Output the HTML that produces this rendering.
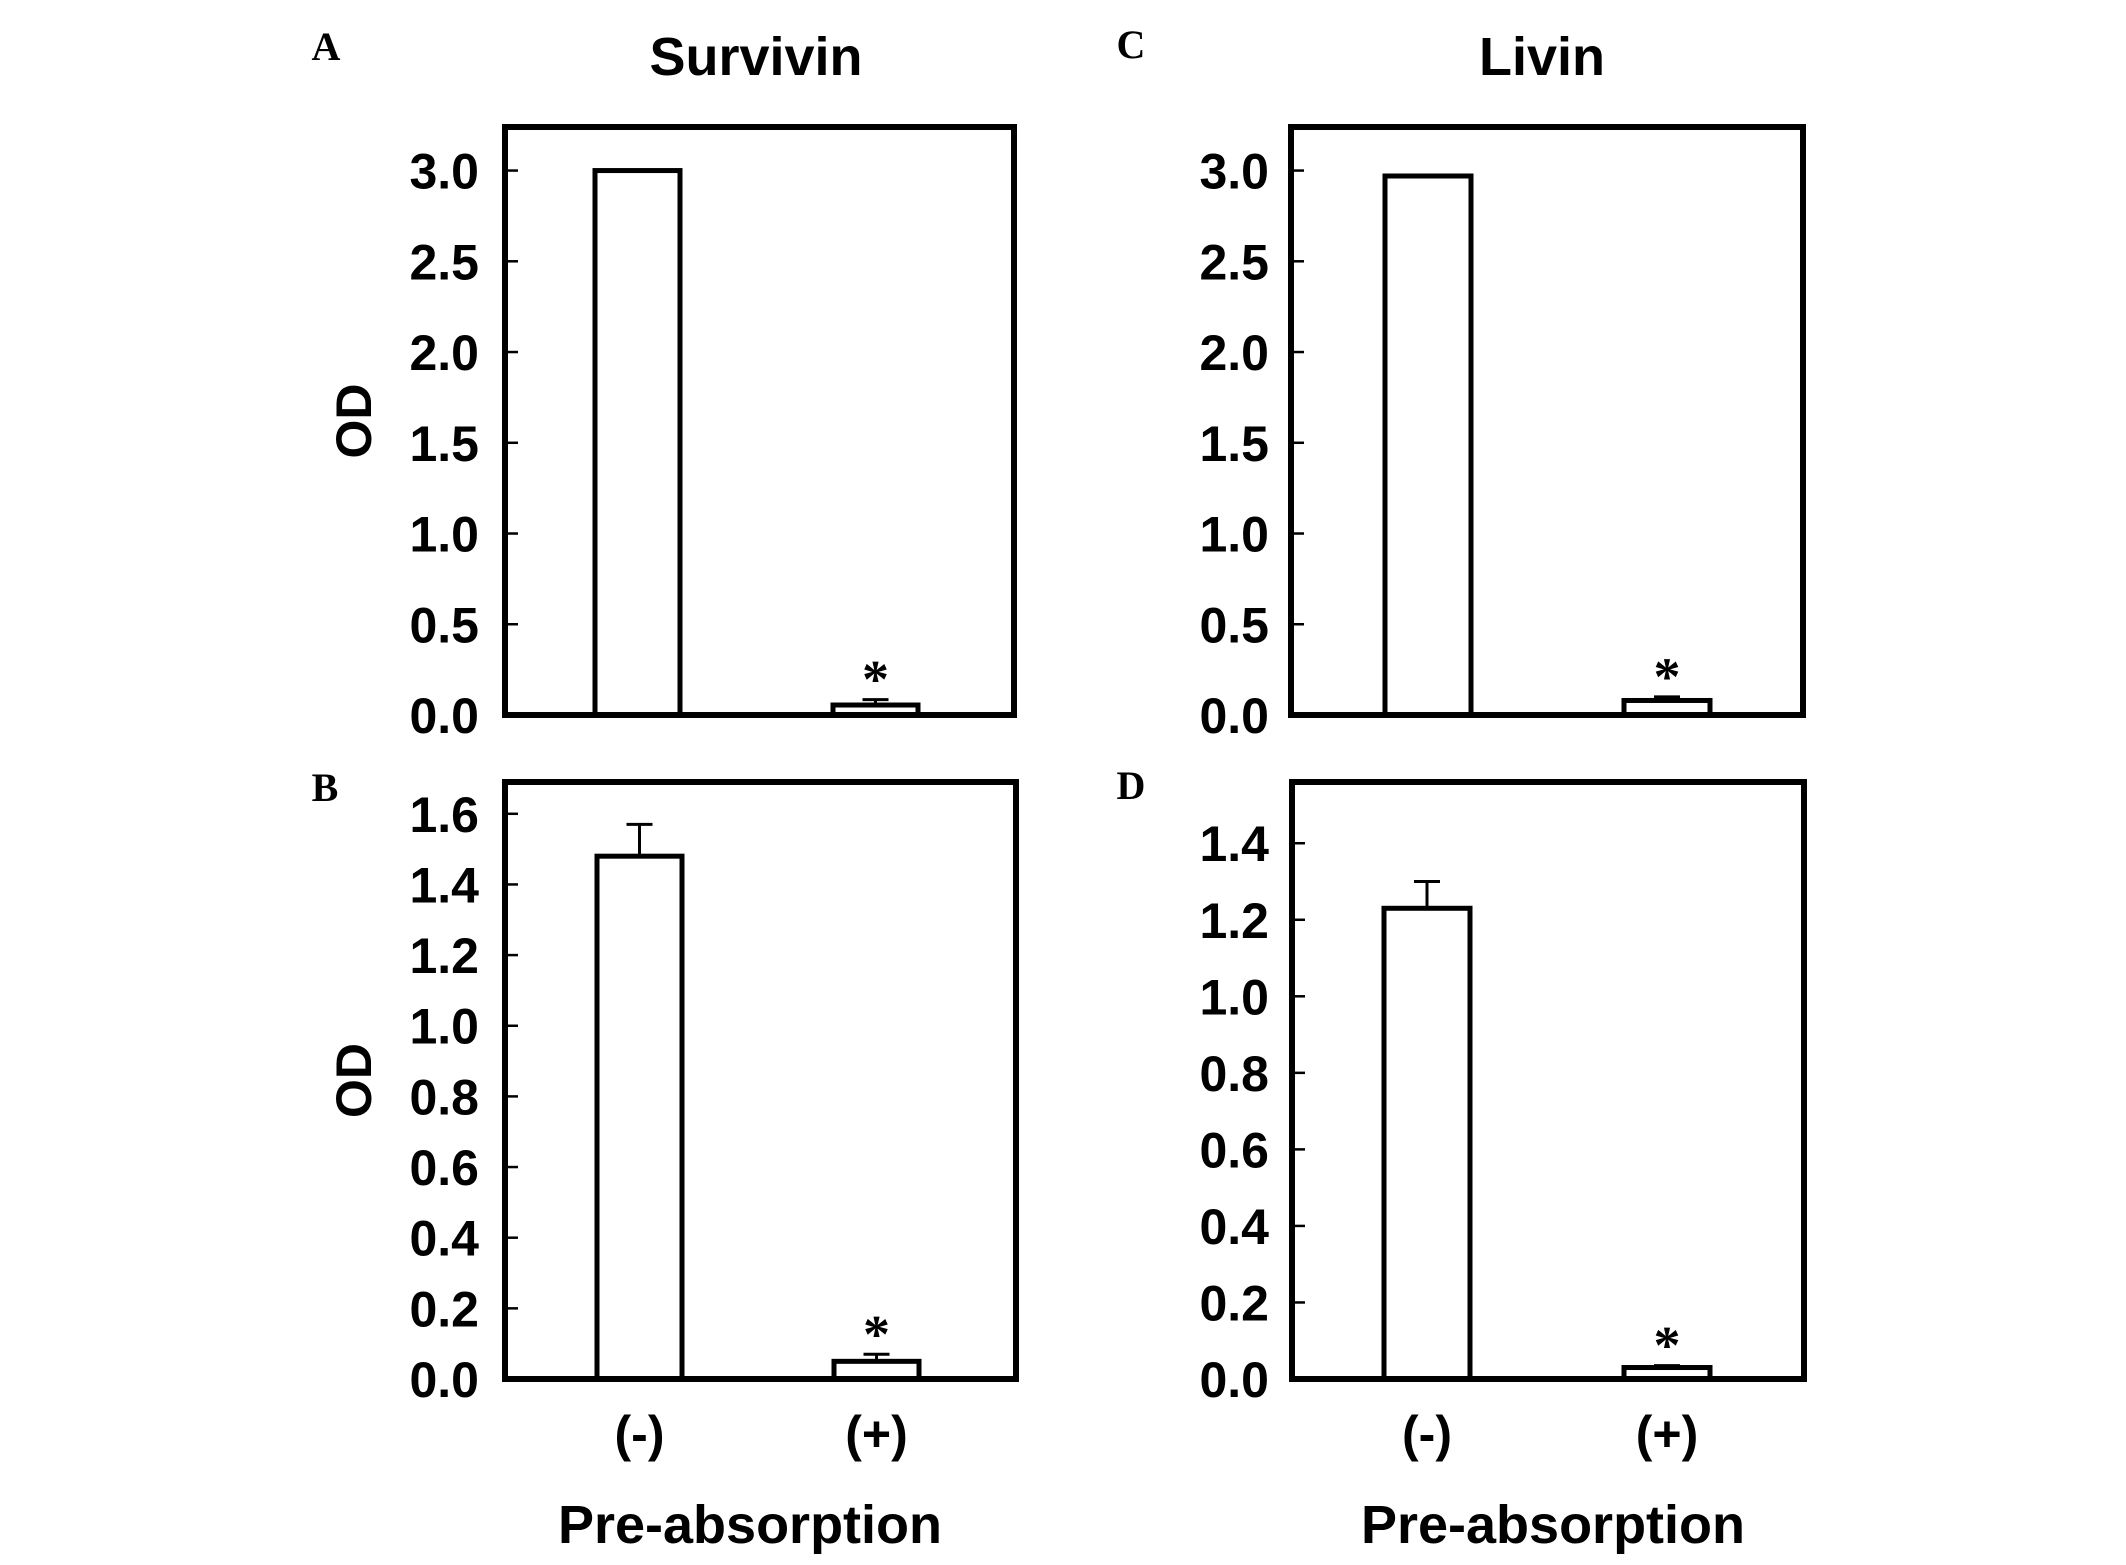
<!DOCTYPE html>
<html><head><meta charset="utf-8"><style>
html,body{margin:0;padding:0;background:#fff;}
svg{display:block;}
text{font-family:"Liberation Sans",sans-serif;font-weight:bold;fill:#000;}
.ser{font-family:"Liberation Serif",serif;}
</style></head><body>
<svg id="fig" width="2126" height="1565" viewBox="0 0 2126 1565" xmlns="http://www.w3.org/2000/svg"></svg>
<script>
const categories = ["(-)", "(+)"];
const survivinA = [3.0, 0.055];
const survivinAErr = [0.0, 0.03];
const survivinB = [1.48, 0.05];
const survivinBErr = [0.09, 0.02];
const livinC = [2.97, 0.08];
const livinCErr = [0.0, 0.02];
const livinD = [1.23, 0.03];
const livinDErr = [0.07, 0.005];
const ticksA = ["0.0","0.5","1.0","1.5","2.0","2.5","3.0"];
const ticksB = ["0.0","0.2","0.4","0.6","0.8","1.0","1.2","1.4","1.6"];
const ticksD = ["0.0","0.2","0.4","0.6","0.8","1.0","1.2","1.4"];

const NS="http://www.w3.org/2000/svg";
const svg=document.getElementById('fig');
function mk(tag,attrs,parent){const e=document.createElementNS(NS,tag);for(const k in attrs)e.setAttribute(k,attrs[k]);(parent||svg).appendChild(e);return e;}

const panels=[
 {id:'a',letter:'A',lx:326,ly:60,x0:505,x1:1014,y0:127,y1:715,max:3.24,vals:survivinA,err:survivinAErr,ticks:ticksA,bx:[595,833],bw:85,labelR:479,od:true},
 {id:'b',letter:'B',lx:325,ly:801,x0:505,x1:1016,y0:782,y1:1379,max:1.69,vals:survivinB,err:survivinBErr,ticks:ticksB,bx:[597,834],bw:85,labelR:479,od:true},
 {id:'c',letter:'C',lx:1131,ly:58,x0:1291,x1:1803,y0:127,y1:715,max:3.24,vals:livinC,err:livinCErr,ticks:ticksA,bx:[1385,1624],bw:86,labelR:1269,od:false},
 {id:'d',letter:'D',lx:1131,ly:799,x0:1292,x1:1804,y0:782,y1:1379,max:1.56,vals:livinD,err:livinDErr,ticks:ticksD,bx:[1384,1624],bw:86,labelR:1269,od:false}
];

panels.forEach(p=>{
  const g=mk('g',{});
  
  
  const yS=v=>p.y1-(v/p.max)*(p.y1-p.y0);
  const lt=mk('text',{x:p.lx,y:p.ly,'font-size':40,'text-anchor':'middle',class:'ser'},g);
  lt.textContent=p.letter;
  
  
  p.ticks.forEach(t=>{
    const v=parseFloat(t), y=yS(v);
    const tk=mk('line',{x1:p.x0,x2:p.x0+13,y1:y,y2:y,stroke:'#000','stroke-width':2.5},g);
    
    
    const tl=mk('text',{x:p.labelR,y:y+18,'font-size':50,'text-anchor':'end'},g);
    tl.textContent=t;
    
    
  });
  p.vals.forEach((v,i)=>{
    const x=p.bx[i], y=yS(v), e=p.err[i], cx=x+p.bw/2;
    if(e>0){
      const ey=yS(v+e);
      const el=mk('line',{x1:cx,x2:cx,y1:y,y2:ey,stroke:'#000','stroke-width':3},g);
      
      
      const cap=mk('line',{x1:cx-13,x2:cx+13,y1:ey,y2:ey,stroke:'#000','stroke-width':3},g);
      
      
    }
    const r=mk('rect',{x:x,y:y,width:p.bw,height:p.y1-y,fill:'#fff',stroke:'#000','stroke-width':5},g);
    
    
    if(i===1){
      const st=mk('text',{x:cx,y:yS(v+e)-2,'font-size':54,'text-anchor':'middle',class:'ser'},g);
      st.textContent='*';
      
      
    }
  });
  const fr=mk('rect',{x:p.x0,y:p.y0,width:p.x1-p.x0,height:p.y1-p.y0,fill:'none',stroke:'#000','stroke-width':6},g);
  
  
  if(p.od){
    const cy=(p.y0+p.y1)/2;
    const od=mk('text',{x:0,y:0,'font-size':50,'text-anchor':'middle',transform:'translate(371,'+cy+') rotate(-90)'},g);
    od.textContent='OD';
    
    
  }
  if(p.id==='b'||p.id==='d'){
    categories.forEach((c,i)=>{
      const t=mk('text',{x:p.bx[i]+p.bw/2,y:1451,'font-size':50,'text-anchor':'middle'},g);
      t.textContent=c;
      
      
    });
    const xt=mk('text',{x:p.id==='b'?750:1553,y:1543,'font-size':54,'text-anchor':'middle'},g);
    xt.textContent='Pre-absorption';
    
    
  }
});
const t1=mk('text',{x:756,y:75,'font-size':54,'text-anchor':'middle'});
t1.textContent='Survivin';


const t2=mk('text',{x:1542,y:75,'font-size':54,'text-anchor':'middle'});
t2.textContent='Livin';


</script>
</body></html>
